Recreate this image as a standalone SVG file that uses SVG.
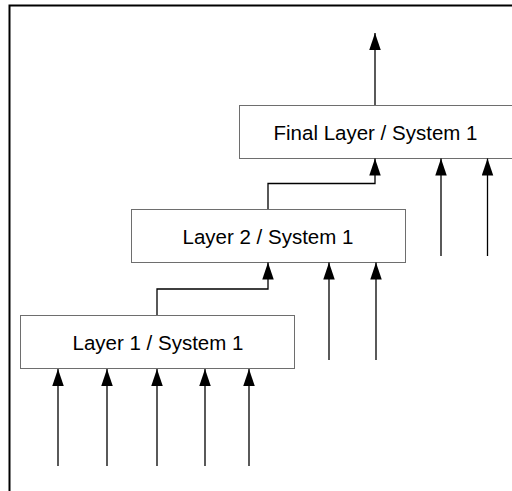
<svg xmlns="http://www.w3.org/2000/svg" width="512" height="491" viewBox="0 0 512 491">
<style>
.box{fill:#fff;stroke:#6e6e6e;stroke-width:1}
.lbl{font-family:"Liberation Sans",Arial,sans-serif;font-size:20.5px;fill:#000;text-anchor:middle}
.c{fill:none;stroke:#000;stroke-width:1.3;marker-end:url(#ah)}
</style>
<defs>
<marker id="ah" markerUnits="userSpaceOnUse" markerWidth="18" markerHeight="12" refX="17" refY="5.75" orient="auto">
<path d="M0,0 L17,5.75 L0,11.5 Z" fill="#000"/>
</marker>
</defs>
<rect width="512" height="491" fill="#fff"/>
<path d="M9.5,491 V5.5 H512" fill="none" stroke="#000" stroke-width="2"/>
<g id="final">
<rect class="box" x="239.5" y="105.5" width="290" height="53"/>
<text class="lbl" x="375.5" y="139.5">Final Layer / System 1</text>
</g>
<g id="layer2">
<rect class="box" x="131.5" y="209.5" width="274" height="53"/>
<text class="lbl" x="268" y="243.5">Layer 2 / System 1</text>
</g>
<g id="layer1">
<rect class="box" x="20.5" y="315.5" width="274" height="53"/>
<text class="lbl" x="158" y="350">Layer 1 / System 1</text>
</g>
<g id="connectors">
<path class="c" d="M375,105 V33"/>
<path class="c" d="M268,209 V183.5 H375 V158.5"/>
<path class="c" d="M441,256 V158.5"/>
<path class="c" d="M487.5,256 V158.5"/>
<path class="c" d="M157,315 V289 H268 V262.5"/>
<path class="c" d="M329,360 V262.5"/>
<path class="c" d="M376,360 V262.5"/>
<path class="c" d="M58,466 V369"/>
<path class="c" d="M107,466 V369"/>
<path class="c" d="M157,466 V369"/>
<path class="c" d="M205,466 V369"/>
<path class="c" d="M249,466 V369"/>
</g>
</svg>
